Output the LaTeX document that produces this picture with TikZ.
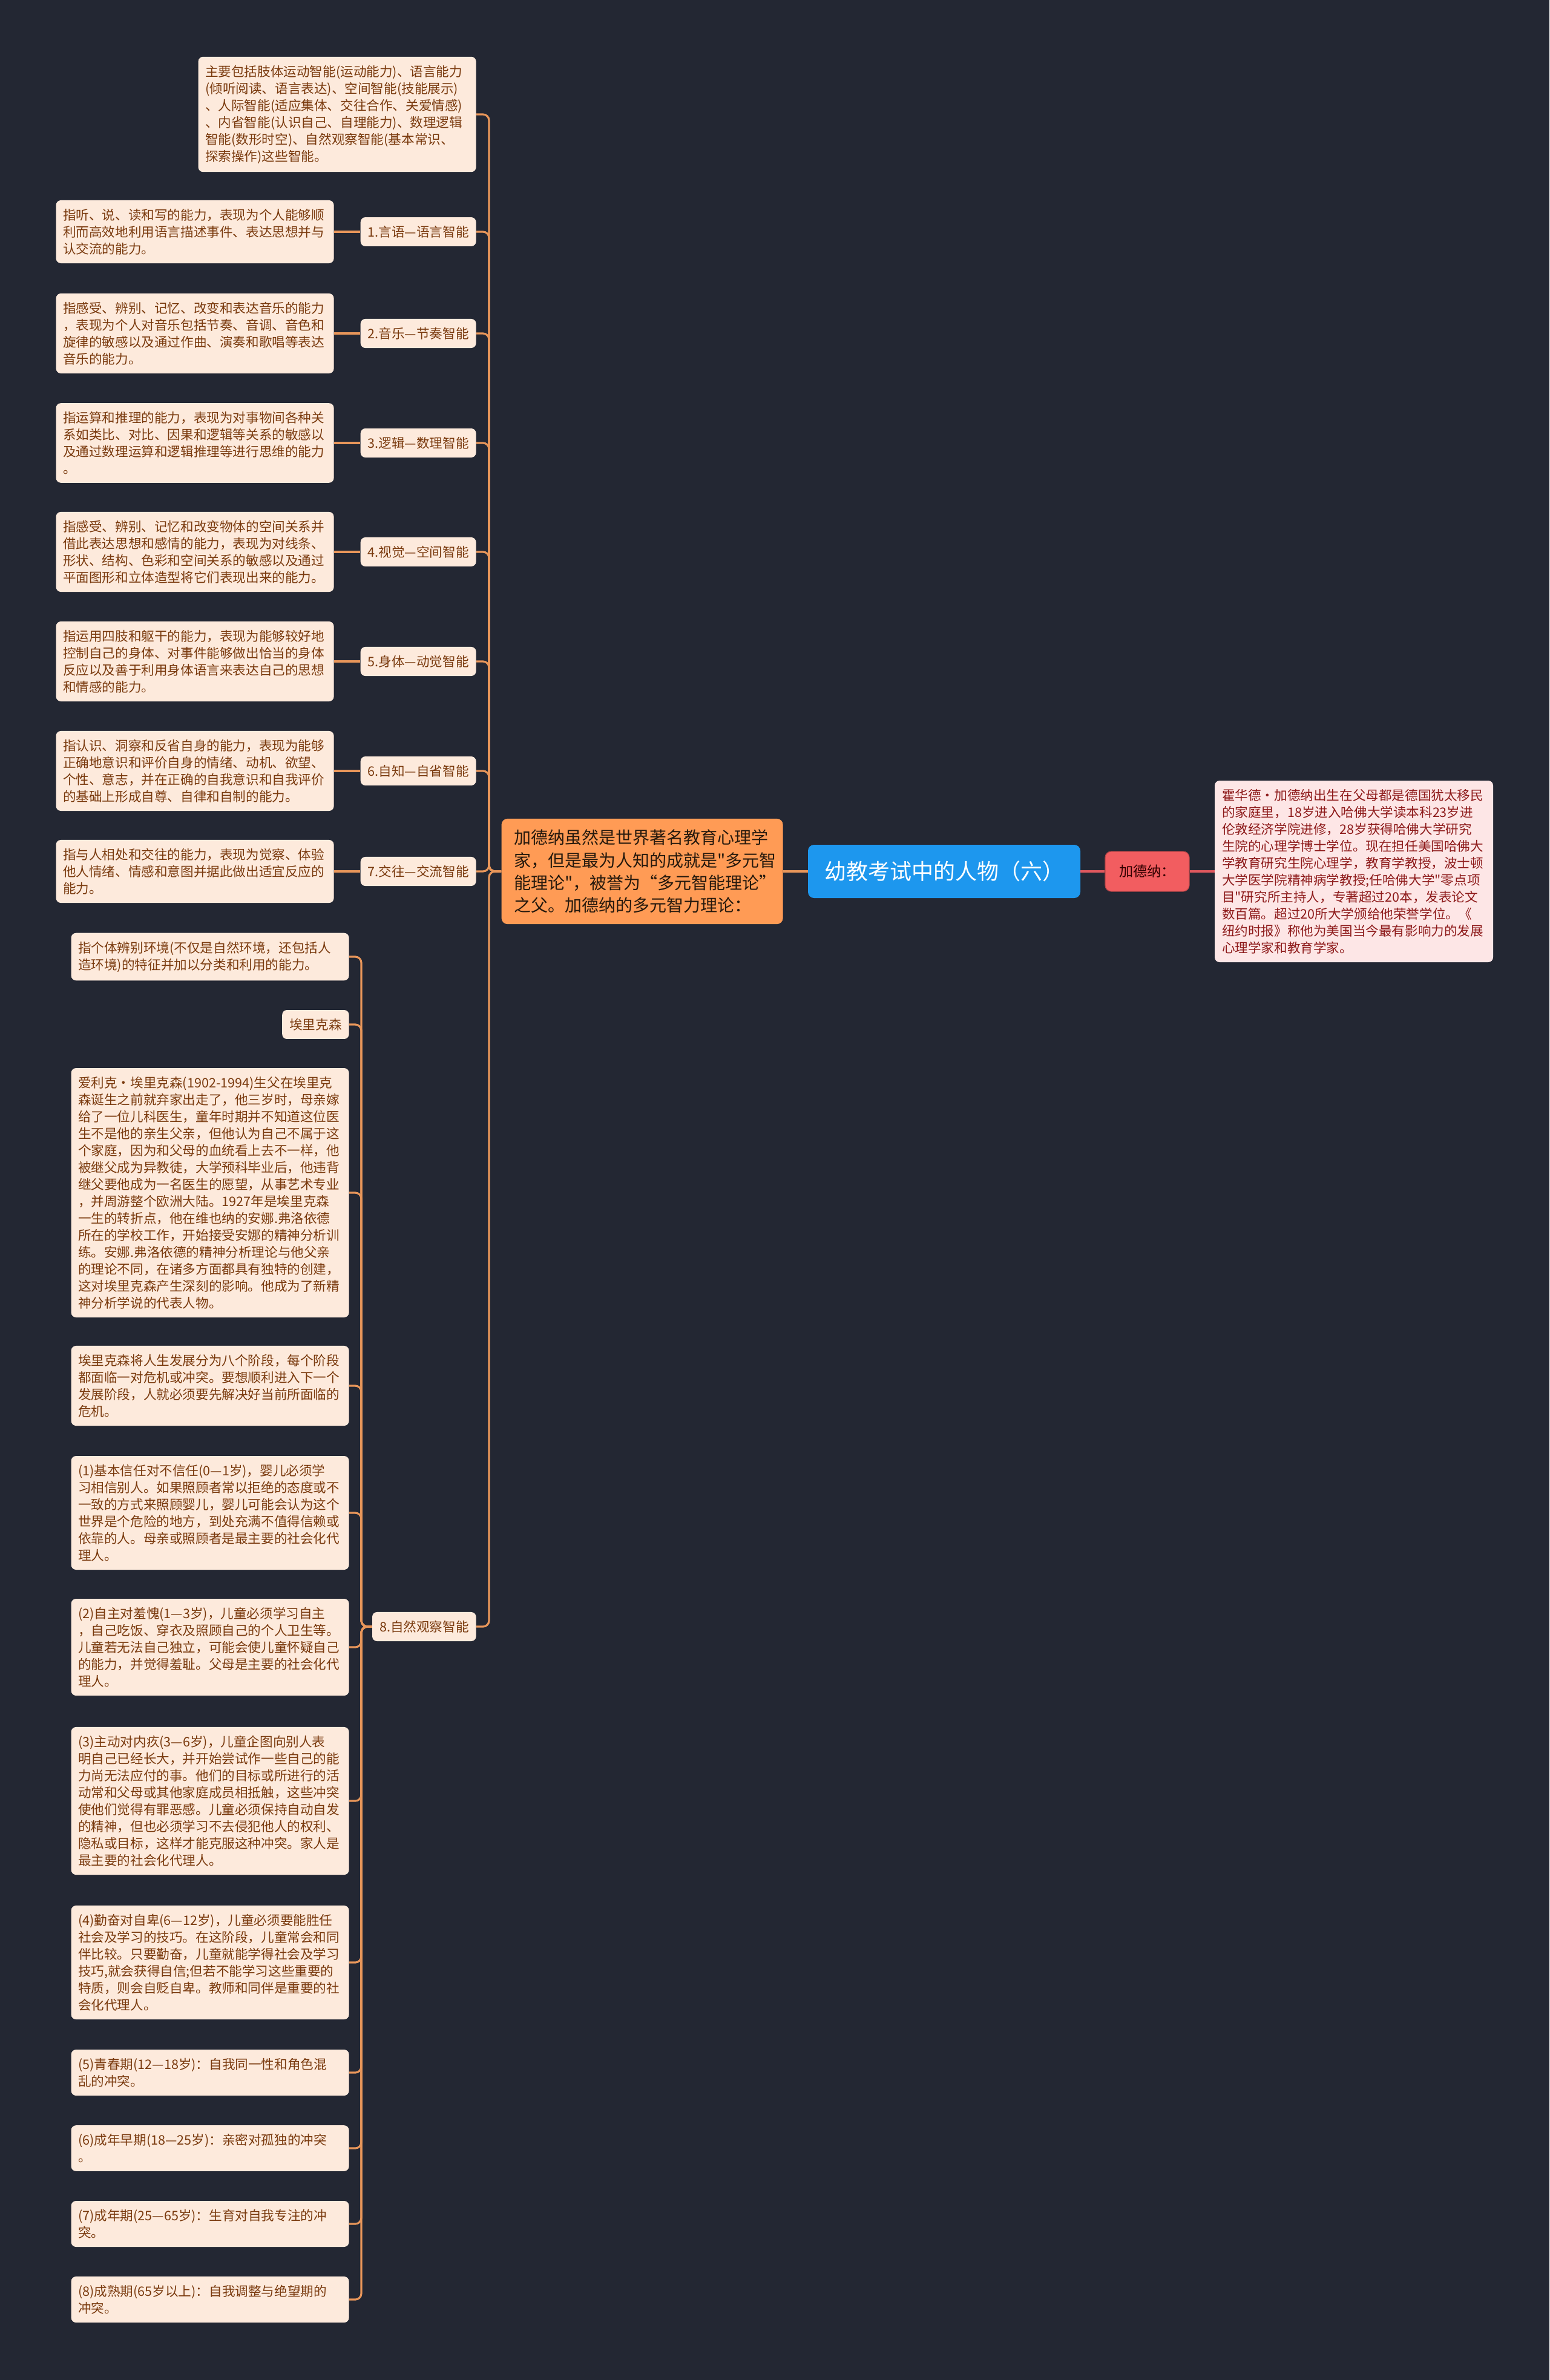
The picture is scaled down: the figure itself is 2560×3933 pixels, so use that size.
\documentclass[tikz,border=0pt]{standalone}
\usepackage{fontspec}
\setmainfont{Noto Sans CJK SC}
\newfontfamily\cjkfont{Noto Sans CJK SC}
\usepackage{xcolor}
\usepackage{tikz}

\definecolor{bgc}{HTML}{232733}
\definecolor{peach}{HTML}{FDEADC}
\definecolor{brownt}{HTML}{7A3A0E}
\definecolor{linkc}{HTML}{E8965A}
\definecolor{mainor}{HTML}{FF9B55}
\definecolor{rootbl}{HTML}{1D97EE}
\definecolor{namered}{HTML}{F25D60}
\definecolor{biofill}{HTML}{FDE6E6}
\definecolor{biotext}{HTML}{8E1B1B}
\definecolor{redl}{HTML}{E0585E}

\begin{document}
\begin{tikzpicture}[x=0.5pt, y=-0.5pt,
  box/.style={fill=peach, rounded corners=4pt, text=brownt, align=left,
              text width=218pt, inner xsep=5.75pt, inner ysep=7pt,
              font=\cjkfont\fontsize{10.8}{14}\selectfont},
  tagbox/.style={fill=peach, rounded corners=4pt, text=brownt,
                 inner xsep=6pt, inner ysep=7pt, font=\cjkfont\fontsize{10.8}{14}\selectfont},
  link/.style={draw=linkc, line width=1.6pt, rounded corners=5pt},
  redlink/.style={draw=redl, line width=1.6pt},
]
  \useasboundingbox (0,0) rectangle (2560,3933);
  \fill[bgc] (0,0) rectangle (2560,3933);

  % Centre and right side
  \node[fill=rootbl, text=white, rounded corners=5pt, minimum width=225pt,
        minimum height=44pt, font=\cjkfont\fontsize{18}{22}\selectfont] (root) at (1560,1440) {幼教考试中的人物（六）};
  \node[fill=mainor, text=black!80!brown, rounded corners=5pt, align=left, text width=212pt,
        inner xsep=10.25pt, inner ysep=9pt, font=\cjkfont\fontsize{14}{18.7}\selectfont,
        anchor=east] (gard) at (1294,1440)
    {加德纳虽然是世界著名教育心理学\\家，但是最为人知的成就是"多元智\\能理论"，被誉为“多元智能理论”\\之父。加德纳的多元智力理论：};
  \node[fill=namered, draw=namered!75!black, line width=0.6pt, text=black!80!red,
        rounded corners=5pt, minimum width=69.5pt, minimum height=33pt,
        font=\cjkfont\fontsize{11.6}{14}\selectfont] (gname) at (1895.5,1440) {加德纳：};
  \node[box, fill=biofill, text=biotext, inner xsep=6pt] (bio) at (2237,1440)
    {霍华德·加德纳出生在父母都是德国犹太移民\\的家庭里，18岁进入哈佛大学读本科23岁进\\伦敦经济学院进修，28岁获得哈佛大学研究\\生院的心理学博士学位。现在担任美国哈佛大\\学教育研究生院心理学，教育学教授，波士顿\\大学医学院精神病学教授;任哈佛大学"零点项\\目"研究所主持人，专著超过20本，发表论文\\数百篇。超过20所大学颁给他荣誉学位。《\\纽约时报》称他为美国当今最有影响力的发展\\心理学家和教育学家。};

  % Eight intelligences
  \node[box, anchor=east] (ov) at (787,189)
    {主要包括肢体运动智能(运动能力)、语言能力\\(倾听阅读、语言表达)、空间智能(技能展示)\\、人际智能(适应集体、交往合作、关爱情感)\\、内省智能(认识自己、自理能力)、数理逻辑\\智能(数形时空)、自然观察智能(基本常识、\\探索操作)这些智能。};
  \node[tagbox, anchor=east] (t1) at (787,383) {1.言语—语言智能};
  \node[tagbox, anchor=east] (t2) at (787,551) {2.音乐—节奏智能};
  \node[tagbox, anchor=east] (t3) at (787,732) {3.逻辑—数理智能};
  \node[tagbox, anchor=east] (t4) at (787,912) {4.视觉—空间智能};
  \node[tagbox, anchor=east] (t5) at (787,1093) {5.身体—动觉智能};
  \node[tagbox, anchor=east] (t6) at (787,1274) {6.自知—自省智能};
  \node[tagbox, anchor=east] (t7) at (787,1440) {7.交往—交流智能};
  \node[tagbox, anchor=east] (t8) at (787,2688) {8.自然观察智能};

  \node[box, anchor=east] (d1) at (552,383)
    {指听、说、读和写的能力，表现为个人能够顺\\利而高效地利用语言描述事件、表达思想并与\\认交流的能力。};
  \node[box, anchor=east] (d2) at (552,551)
    {指感受、辨别、记忆、改变和表达音乐的能力\\，表现为个人对音乐包括节奏、音调、音色和\\旋律的敏感以及通过作曲、演奏和歌唱等表达\\音乐的能力。};
  \node[box, anchor=east] (d3) at (552,732)
    {指运算和推理的能力，表现为对事物间各种关\\系如类比、对比、因果和逻辑等关系的敏感以\\及通过数理运算和逻辑推理等进行思维的能力\\。};
  \node[box, anchor=east] (d4) at (552,912)
    {指感受、辨别、记忆和改变物体的空间关系并\\借此表达思想和感情的能力，表现为对线条、\\形状、结构、色彩和空间关系的敏感以及通过\\平面图形和立体造型将它们表现出来的能力。};
  \node[box, anchor=east] (d5) at (552,1093)
    {指运用四肢和躯干的能力，表现为能够较好地\\控制自己的身体、对事件能够做出恰当的身体\\反应以及善于利用身体语言来表达自己的思想\\和情感的能力。};
  \node[box, anchor=east] (d6) at (552,1274)
    {指认识、洞察和反省自身的能力，表现为能够\\正确地意识和评价自身的情绪、动机、欲望、\\个性、意志，并在正确的自我意识和自我评价\\的基础上形成自尊、自律和自制的能力。};
  \node[box, anchor=east] (d7) at (552,1440)
    {指与人相处和交往的能力，表现为觉察、体验\\他人情绪、情感和意图并据此做出适宜反应的\\能力。};

  % Under 8: Erikson
  \node[box, anchor=east] (e1) at (577,1581)
    {指个体辨别环境(不仅是自然环境，还包括人\\造环境)的特征并加以分类和利用的能力。};
  \node[tagbox, anchor=east] (e2) at (577,1693) {埃里克森};
  \node[box, anchor=east] (e3) at (577,1971)
    {爱利克·埃里克森(1902-1994)生父在埃里克\\森诞生之前就弃家出走了，他三岁时，母亲嫁\\给了一位儿科医生，童年时期并不知道这位医\\生不是他的亲生父亲，但他认为自己不属于这\\个家庭，因为和父母的血统看上去不一样，他\\被继父成为异教徒，大学预科毕业后，他违背\\继父要他成为一名医生的愿望，从事艺术专业\\，并周游整个欧洲大陆。1927年是埃里克森\\一生的转折点，他在维也纳的安娜.弗洛依德\\所在的学校工作，开始接受安娜的精神分析训\\练。安娜.弗洛依德的精神分析理论与他父亲\\的理论不同，在诸多方面都具有独特的创建，\\这对埃里克森产生深刻的影响。他成为了新精\\神分析学说的代表人物。};
  \node[box, anchor=east] (e4) at (577,2290)
    {埃里克森将人生发展分为八个阶段，每个阶段\\都面临一对危机或冲突。要想顺利进入下一个\\发展阶段，人就必须要先解决好当前所面临的\\危机。};
  \node[box, anchor=east] (e5) at (577,2500)
    {(1)基本信任对不信任(0—1岁)，婴儿必须学\\习相信别人。如果照顾者常以拒绝的态度或不\\一致的方式来照顾婴儿，婴儿可能会认为这个\\世界是个危险的地方，到处充满不值得信赖或\\依靠的人。母亲或照顾者是最主要的社会化代\\理人。};
  \node[box, anchor=east] (e6) at (577,2722)
    {(2)自主对羞愧(1—3岁)，儿童必须学习自主\\，自己吃饭、穿衣及照顾自己的个人卫生等。\\儿童若无法自己独立，可能会使儿童怀疑自己\\的能力，并觉得羞耻。父母是主要的社会化代\\理人。};
  \node[box, anchor=east] (e7) at (577,2976)
    {(3)主动对内疚(3—6岁)，儿童企图向别人表\\明自己已经长大，并开始尝试作一些自己的能\\力尚无法应付的事。他们的目标或所进行的活\\动常和父母或其他家庭成员相抵触，这些冲突\\使他们觉得有罪恶感。儿童必须保持自动自发\\的精神，但也必须学习不去侵犯他人的权利、\\隐私或目标，这样才能克服这种冲突。家人是\\最主要的社会化代理人。};
  \node[box, anchor=east] (e8) at (577,3243)
    {(4)勤奋对自卑(6—12岁)，儿童必须要能胜任\\社会及学习的技巧。在这阶段，儿童常会和同\\伴比较。只要勤奋，儿童就能学得社会及学习\\技巧,就会获得自信;但若不能学习这些重要的\\特质，则会自贬自卑。教师和同伴是重要的社\\会化代理人。};
  \node[box, anchor=east] (e9) at (577,3425)
    {(5)青春期(12—18岁)：自我同一性和角色混\\乱的冲突。};
  \node[box, anchor=east] (e10) at (577,3550)
    {(6)成年早期(18—25岁)：亲密对孤独的冲突\\。};
  \node[box, anchor=east] (e11) at (577,3675)
    {(7)成年期(25—65岁)：生育对自我专注的冲\\突。};
  \node[box, anchor=east] (e12) at (577,3800)
    {(8)成熟期(65岁以上)：自我调整与绝望期的\\冲突。};

  % Connectors
  \draw[link] (root.west) -- (gard.east);
  \draw[redlink] (root.east) -- (gname.west);
  \draw[redlink] (gname.east) -- (bio.west);

  \coordinate (hub) at (808,1440);
  \foreach \t in {ov,t1,t2,t3,t4,t5,t6,t7,t8}
    \draw[link] (gard.west) -- (hub) |- (\t.east);
  \foreach \i in {1,...,7}
    \draw[link] (d\i.east) -- (t\i.west);

  \coordinate (hub8) at (597,2688);
  \foreach \i in {1,...,12}
    \draw[link] (t8.west) -- (hub8) |- (e\i.east);
\end{tikzpicture}
\end{document}
